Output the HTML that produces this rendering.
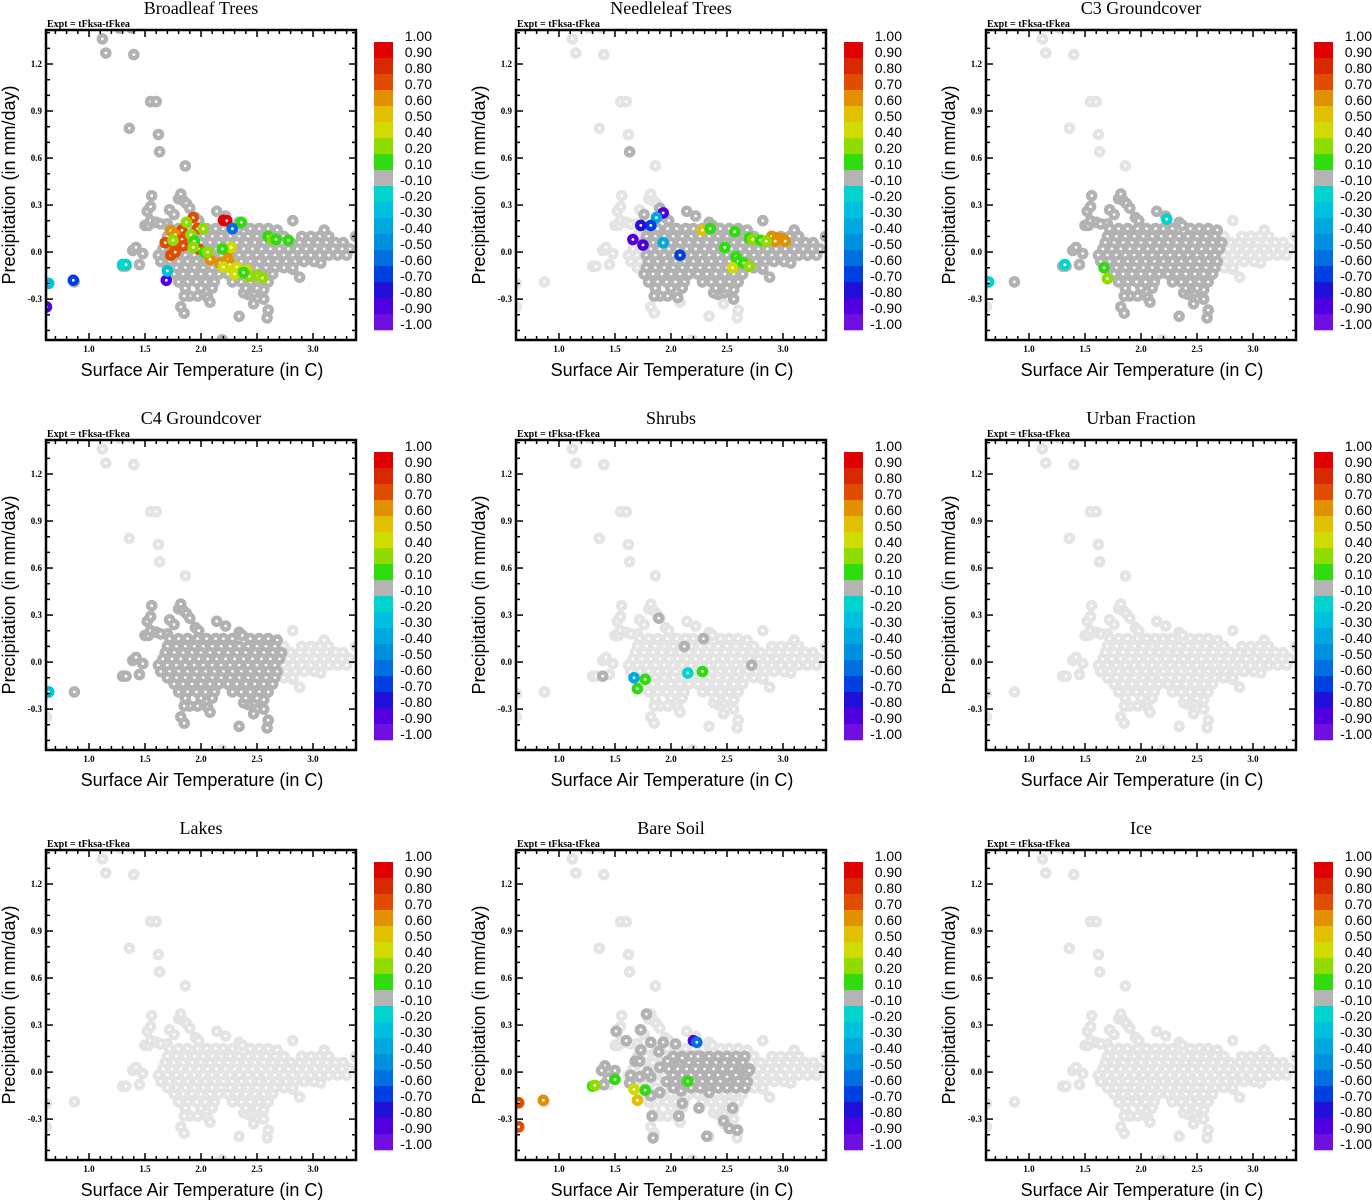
<!DOCTYPE html>
<html><head><meta charset="utf-8"><style>
body{margin:0;background:#fff;width:1372px;height:1200px;overflow:hidden}
svg{display:block}
</style></head><body>
<svg id="fig" width="1372" height="1200" xmlns="http://www.w3.org/2000/svg"></svg>
<script>
// ---------- data ----------
const panelTitles = ["Broadleaf Trees","Needleleaf Trees","C3 Groundcover","C4 Groundcover","Shrubs","Urban Fraction","Lakes","Bare Soil","Ice"];
const xTicks = [1.0,1.5,2.0,2.5,3.0];
const yTicks = [-0.3,0.0,0.3,0.6,0.9,1.2];
const cbLabels = ["1.00","0.90","0.80","0.70","0.60","0.50","0.40","0.20","0.10","-0.10","-0.20","-0.30","-0.40","-0.50","-0.60","-0.70","-0.80","-0.90","-1.00"];
const cbBounds = [1.0,0.9,0.8,0.7,0.6,0.5,0.4,0.2,0.1,-0.1,-0.2,-0.3,-0.4,-0.5,-0.6,-0.7,-0.8,-0.9,-1.0];
const cbColors = ["#e00000","#d82800","#e04c00","#e09000","#e0c000","#d0dc00","#90dc00","#30dc10","#b4b4b4","#00d4cc","#00c0e0","#00a8e0","#0090e0","#0070e0","#0040e0","#2010d8","#5000e0","#7010e0"];

const outlierT = [1.12,1.15,1.40,1.27,1.38,1.55,1.60,1.36,1.62,1.63,1.86,0.62,0.62,0.87,1.30,1.33,1.39,1.42,1.45,1.48,1.50,1.53,1.52,1.55,1.56,1.55,1.60,1.64,1.70,1.72,1.76,1.80,1.82,1.84,1.87,1.90,1.95,1.98,2.14,2.22,2.34,2.37,2.60,2.68,2.82,3.10,3.38,1.82,1.85,2.34,2.59,2.19,2.56,2.60,2.47,2.42,2.38,2.06,2.08,1.97,1.90,1.85,2.48,2.56,2.88,2.82,3.07,3.01];
const outlierP = [1.36,1.27,1.26,1.43,1.43,0.96,0.96,0.79,0.75,0.64,0.55,-0.20,-0.35,-0.19,-0.09,-0.09,0.01,0.03,-0.08,-0.01,0.17,0.17,0.26,0.29,0.36,0.20,0.19,0.18,0.18,0.27,0.24,0.34,0.37,0.33,0.31,0.28,0.22,0.20,0.26,0.23,0.19,0.17,0.15,0.14,0.20,0.14,0.10,-0.35,-0.39,-0.41,-0.42,-0.56,-0.30,-0.37,-0.33,-0.27,-0.26,-0.29,-0.32,-0.28,-0.28,-0.28,-0.26,-0.24,-0.16,-0.11,-0.07,-0.06];
const coreRowP = [0.15,0.10,0.06,0.02,-0.02,-0.06,-0.10,-0.14,-0.19,-0.23];
const coreRowT = [
 [1.72,1.80,1.88,1.97,2.05,2.13,2.20,2.28,2.44,2.52],
 [1.70,1.78,1.86,1.94,2.02,2.10,2.18,2.26,2.34,2.42,2.50,2.58,2.66,2.74,2.90,2.98,3.06,3.14],
 [1.68,1.76,1.84,1.92,2.00,2.08,2.16,2.24,2.32,2.40,2.48,2.56,2.64,2.72,2.80,2.88,2.96,3.04,3.12,3.20,3.27],
 [1.66,1.74,1.82,1.90,1.98,2.06,2.14,2.22,2.30,2.38,2.46,2.54,2.62,2.70,2.78,2.86,2.94,3.02,3.10,3.18,3.26,3.33],
 [1.62,1.70,1.78,1.86,1.94,2.02,2.10,2.18,2.26,2.34,2.42,2.50,2.58,2.66,2.74,2.82,2.90,2.98,3.06,3.14,3.22,3.30],
 [1.64,1.72,1.80,1.88,1.96,2.04,2.12,2.20,2.28,2.36,2.44,2.52,2.60,2.68,2.76,2.84,2.92],
 [1.70,1.78,1.86,1.94,2.02,2.10,2.18,2.26,2.34,2.42,2.50,2.58,2.66,2.74,2.82],
 [1.76,1.84,1.92,2.00,2.08,2.16,2.24,2.32,2.40,2.48,2.56,2.64],
 [1.80,1.88,1.96,2.04,2.12,2.28,2.36,2.44,2.52,2.60],
 [1.86,2.00,2.10,2.40,2.50]
];
const darkWindow = [[0,4,-1,2],[1.75,3.4,-0.3,0.3],[0.8,2.72,-0.5,0.5],[0.8,2.72,-0.45,0.45],null,null,null,[1.95,2.7,-0.12,0.12],null];
const darkExtraT = [[],[1.63],[],[],[1.89,2.29,1.39,2.72,2.12],[],[],[1.78,1.73,1.51,1.60,1.82,1.93,2.04,1.89,1.73,1.68,1.72,1.90,1.97,1.41,1.38,1.50,1.44,1.40,1.63,1.64,1.72,1.82,1.79,1.82,1.90,1.83,1.84,2.07,2.10,2.25,2.32,2.47,2.55,2.52,2.59,2.66,2.70,2.50,2.34,2.09,2.10,2.24],[]];
const darkExtraP = [[],[0.64],[],[],[0.28,0.15,-0.09,-0.02,0.10],[],[],[0.37,0.27,0.26,0.20,0.19,0.19,0.18,0.13,0.14,0.07,0.07,0.03,0.07,0.04,0.01,0.01,-0.04,-0.08,-0.07,-0.02,-0.03,-0.03,0.00,-0.15,-0.13,-0.28,-0.42,-0.28,-0.20,-0.23,-0.41,-0.31,-0.23,-0.36,-0.37,0.01,0.01,-0.03,-0.13,-0.12,0.09,0.10],[]];
const colT = [
 [2.20,2.23,2.36,1.93,1.97,1.83,1.73,1.77,1.68,1.83,1.77,1.84,1.73,1.77,1.98,2.08,2.17,2.24,2.24,2.26,2.27,2.20,2.29,2.32,2.41,2.35,2.30,2.43,2.51,2.55,2.38,1.87,2.02,1.91,1.94,1.93,2.03,2.06,2.19,2.60,2.64,2.67,2.78,1.75,1.30,1.33,0.64,0.86,0.62,1.69,2.28,1.70],
 [2.90,2.95,3.00,2.93,3.02,2.28,2.35,2.57,2.70,2.73,2.80,2.85,2.48,2.58,2.60,2.65,2.55,2.70,1.93,1.87,1.82,1.73,1.66,1.75,1.93,2.08],
 [2.23,1.32,0.64,1.67,1.70],
 [0.64],
 [1.67,1.77,1.70,2.15,2.28],
 [],[],
 [2.20,2.23,2.15,1.77,1.67,1.70,1.50,1.30,1.32,0.86,0.64,0.64],
 []
];
const colP = [
 [0.203,0.20,0.19,0.22,0.15,0.14,0.135,0.11,0.06,0.08,0.025,0.04,-0.02,0.0,0.02,-0.047,-0.07,0.01,-0.05,-0.08,0.03,-0.095,-0.115,-0.095,-0.115,-0.135,-0.14,-0.155,-0.15,-0.165,-0.13,0.19,0.15,0.11,0.07,0.03,0.0,0.0,0.02,0.10,0.08,0.08,0.075,0.075,-0.08,-0.08,-0.20,-0.18,-0.35,-0.18,0.15,-0.12],
 [0.10,0.09,0.085,0.07,0.07,0.14,0.15,0.13,0.09,0.08,0.075,0.07,0.03,-0.03,-0.06,-0.07,-0.10,-0.09,0.25,0.22,0.17,0.17,0.08,0.045,0.06,-0.02],
 [0.21,-0.08,-0.19,-0.10,-0.17],
 [-0.19],
 [-0.10,-0.11,-0.17,-0.07,-0.06],
 [],[],
 [0.20,0.19,-0.058,-0.115,-0.11,-0.18,-0.047,-0.09,-0.085,-0.18,-0.196,-0.35],
 []
];
const colV = [
 [0.95,0.95,0.15,0.75,0.75,0.75,0.65,0.65,0.75,0.75,0.75,0.75,0.75,0.75,0.75,0.65,0.65,0.65,0.65,0.65,0.45,0.45,0.45,0.45,0.45,0.3,0.45,0.3,0.3,0.3,0.15,0.3,0.3,0.3,0.15,0.3,0.15,0.3,0.15,0.15,0.3,0.15,0.15,0.3,-0.15,-0.15,-0.25,-0.65,-0.85,-0.85,-0.55,-0.25],
 [0.65,0.65,0.65,0.65,0.65,0.55,0.15,0.15,0.15,0.3,0.15,0.3,0.15,0.15,0.15,0.15,0.45,0.3,-0.85,-0.35,-0.65,-0.75,-0.85,-0.85,-0.35,-0.65],
 [-0.15,-0.15,-0.15,0.15,0.3],
 [-0.25],
 [-0.35,0.15,0.15,-0.15,0.15],
 [],[],
 [-0.9,-0.6,0.15,0.15,0.45,0.55,0.15,0.15,0.3,0.65,0.75,0.75],
 []
];

// ---------- drawing ----------
const NS = "http://www.w3.org/2000/svg";
const fig = document.getElementById('fig');
function mk(tag, attrs, parent){const e=document.createElementNS(NS,tag);for(const k in attrs)e.setAttribute(k,attrs[k]);(parent||fig).appendChild(e);return e;}
const PL=46, PR=356, PT=30, PB=340, TMIN=0.616, TMAX=3.384, PMIN=-0.561, PMAX=1.417;
const xs = t => PL + (t-TMIN)/(TMAX-TMIN)*(PR-PL);
const ys = p => PB - (p-PMIN)/(PMAX-PMIN)*(PB-PT);
function colorOf(v){for(let i=0;i<cbColors.length;i++){if(v<=cbBounds[i]&&v>=cbBounds[i+1])return cbColors[i];}return cbColors[8];}
const serif='"Liberation Serif", serif', sans='"Liberation Sans", sans-serif';

const baseT=[], baseP=[];
outlierT.forEach((t,i)=>{baseT.push(t);baseP.push(outlierP[i]);});
coreRowT.forEach((row,r)=>row.forEach(t=>{baseT.push(t);baseP.push(coreRowP[r]);}));

function ring(g,t,p,col,name){
  const c=mk('circle',{cx:xs(t).toFixed(1),cy:ys(p).toFixed(1),r:3.6,fill:'#fff',stroke:col,'stroke-width':4.4},g);
  
  
}

for(let k=0;k<9;k++){
  const ox=(k%3)*470, oy=Math.floor(k/3)*410;
  const g=mk('g',{transform:`translate(${ox},${oy})`});
  
  
  const title=mk('text',{x:201,y:14,'text-anchor':'middle','font-family':serif,'font-size':18},g);
  title.textContent=panelTitles[k];
  
  
  const ex=mk('text',{x:47,y:27,'font-family':serif,'font-size':10,'font-weight':'bold'},g);
  ex.textContent='Expt = tFksa-tFkea';
  
  
  const cp=mk('clipPath',{id:'cp'+k},g);
  mk('rect',{x:PL,y:PT,width:PR-PL,height:PB-PT},cp);
  const pg=mk('g',{'clip-path':`url(#cp${k})`},g);
  const w=darkWindow[k];
  const inWin=(t,p)=>w&&t>=w[0]&&t<=w[1]&&p>=w[2]&&p<=w[3];
  baseT.forEach((t,i)=>{if(!inWin(t,baseP[i]))ring(pg,t,baseP[i],'#e4e4e4','point-other');});
  baseT.forEach((t,i)=>{if(inWin(t,baseP[i]))ring(pg,t,baseP[i],'#b2b2b2','point-neutral');});
  darkExtraT[k].forEach((t,i)=>ring(pg,t,darkExtraP[k][i],'#b2b2b2','point-neutral'));
  colT[k].forEach((t,i)=>ring(pg,t,colP[k][i],colorOf(colV[k][i]),'point-colored'));
  const fr=mk('rect',{x:PL,y:PT,width:PR-PL,height:PB-PT,fill:'none',stroke:'#000','stroke-width':2.5},g);
  
  
  for(let t=0.7;t<=3.35;t+=0.1){
    const x=xs(t), major=xTicks.some(v=>Math.abs(v-t)<1e-6), L=major?7:4;
    mk('line',{x1:x,y1:PB,x2:x,y2:PB-L,stroke:'#000','stroke-width':1.5},g);
    mk('line',{x1:x,y1:PT,x2:x,y2:PT+L,stroke:'#000','stroke-width':1.5},g);
  }
  xTicks.forEach(v=>{const tx=mk('text',{x:xs(v),y:PB+12,'text-anchor':'middle','font-family':serif,'font-size':9,'font-weight':'bold'},g);tx.textContent=v.toFixed(1);
    
    });
  for(let p=-0.5;p<=1.41;p+=0.1){
    const y=ys(p), major=yTicks.some(v=>Math.abs(v-p)<1e-6), L=major?7:4;
    mk('line',{x1:PL,y1:y,x2:PL+L,y2:y,stroke:'#000','stroke-width':1.5},g);
    mk('line',{x1:PR,y1:y,x2:PR-L,y2:y,stroke:'#000','stroke-width':1.5},g);
  }
  yTicks.forEach(v=>{const ty=mk('text',{x:PL-4,y:ys(v)+3,'text-anchor':'end','font-family':serif,'font-size':9,'font-weight':'bold'},g);ty.textContent=v.toFixed(1);
    
    });
  const xt=mk('text',{x:202,y:376,'text-anchor':'middle','font-family':sans,'font-size':18},g);
  xt.textContent='Surface Air Temperature (in C)';
  
  
  const yt=mk('text',{x:0,y:0,'text-anchor':'middle','font-family':sans,'font-size':18,transform:'translate(15,185) rotate(-90)'},g);
  yt.textContent='Precipitation (in mm/day)';
  
  
  cbColors.forEach((c,i)=>{const r=mk('rect',{x:374,y:42+i*16,width:19,height:16.3,fill:c},g);
    
    });
  cbLabels.forEach((s,i)=>{
    const y=42+i*16;
    const tl=mk('text',{x:432,y:y-1,'text-anchor':'end','font-family':sans,'font-size':14},g);
    tl.textContent=s;
    
    
  });
}
</script>
</body></html>
